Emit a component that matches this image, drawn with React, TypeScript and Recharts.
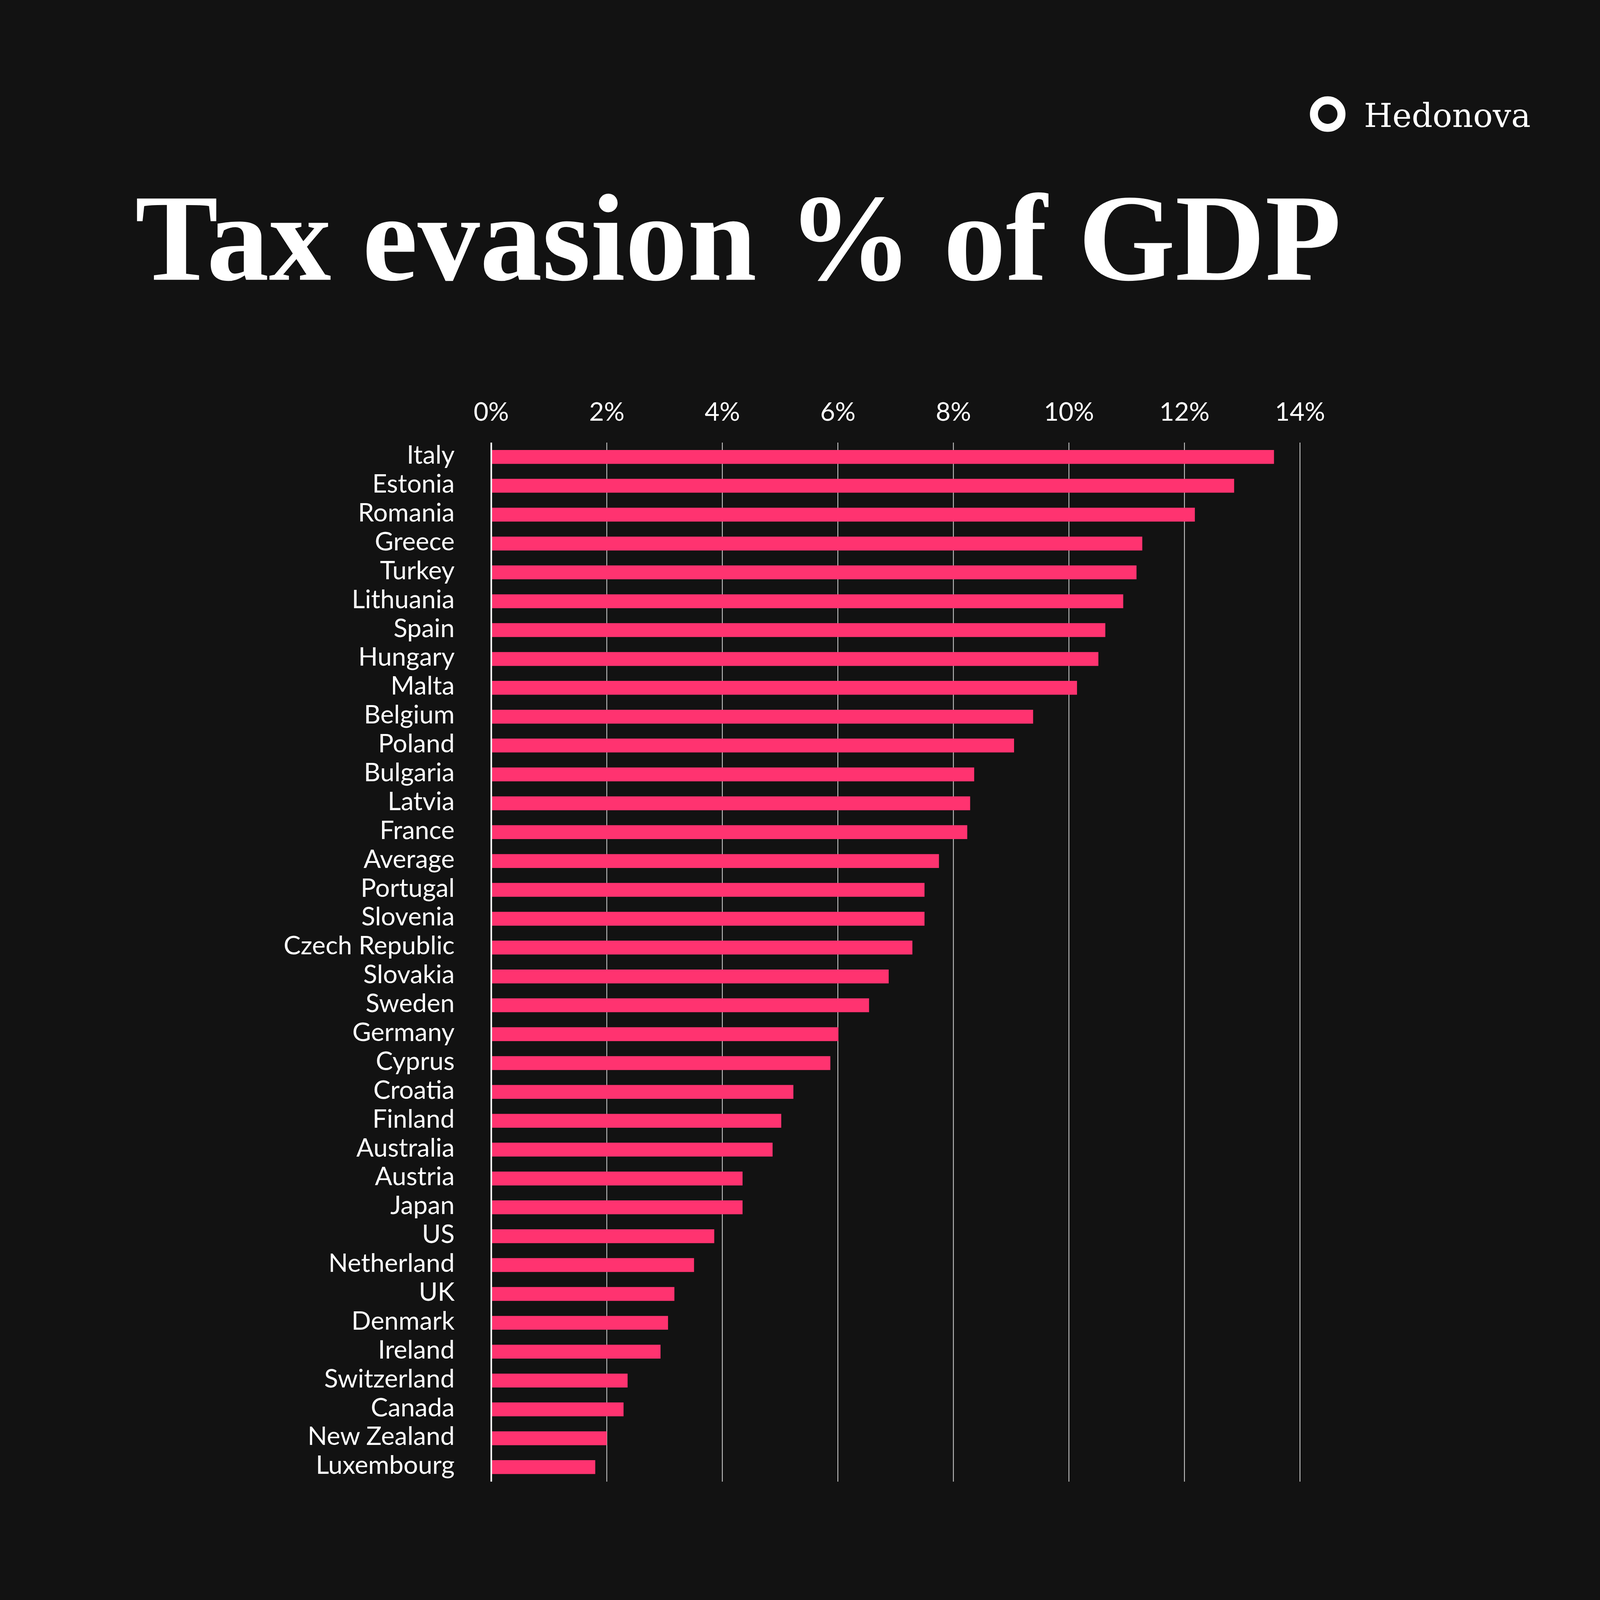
import type React from "react";
import { Bar, BarChart, CartesianGrid, ReferenceLine, XAxis, YAxis } from "recharts";

const countries = [
  "Italy", "Estonia", "Romania", "Greece", "Turkey", "Lithuania", "Spain", "Hungary", "Malta",
  "Belgium", "Poland", "Bulgaria", "Latvia", "France", "Average", "Portugal", "Slovenia",
  "Czech Republic", "Slovakia", "Sweden", "Germany", "Cyprus", "Croatia", "Finland", "Australia",
  "Austria", "Japan", "US", "Netherland", "UK", "Denmark", "Ireland", "Switzerland", "Canada",
  "New Zealand", "Luxembourg",
];

const evasionPct = [
  13.55, 12.86, 12.18, 11.27, 11.17, 10.94, 10.63, 10.51, 10.14,
  9.38, 9.05, 8.36, 8.29, 8.24, 7.75, 7.5, 7.5,
  7.29, 6.88, 6.54, 6.01, 5.87, 5.23, 5.02, 4.87,
  4.35, 4.35, 3.86, 3.51, 3.17, 3.06, 2.93, 2.36, 2.29,
  2.0, 1.8,
];

const xTicks = [0, 2, 4, 6, 8, 10, 12, 14];

const data = countries.map((country, i) => ({ country, value: evasionPct[i] }));

// the page is only 4096 px wide, so the 4501 px layout is scaled down to fit
const S = 4096 / 4501;
const px = (v: number) => v * S;

const W = 4096;
const H = 4096;
const BG = "#121212";
const PINK = "#ff3370";
const LABEL_FONT = "Lato, 'Open Sans', sans-serif";

const styles = {
  page: {
    position: "absolute",
    left: 0,
    top: 0,
    width: W,
    height: H,
    background: BG,
    overflow: "hidden",
  } as React.CSSProperties,
  overlay: {
    position: "absolute",
    left: 0,
    top: 0,
    pointerEvents: "none",
  } as React.CSSProperties,
};

function CountryTick({ x, y, payload }: any) {
  return (
    <text x={x - px(103)} y={y + px(19)} textAnchor="end" fill="#ffffff" fontSize={px(72)} fontFamily={LABEL_FONT}>
      {payload.value}
    </text>
  );
}

function PctTick({ x, y, payload }: any) {
  return (
    <text x={x} y={y - px(62)} textAnchor="middle" fill="#ffffff" fontSize={px(72)} fontFamily={LABEL_FONT}>
      {`${payload.value}%`}
    </text>
  );
}

export default function App() {
  return (
    <div style={styles.page}>
      <BarChart
        width={W}
        height={H}
        data={data}
        layout="vertical"
        margin={{ top: 0, right: W - px(3657), bottom: H - px(4168), left: 0 }}
      >
        <CartesianGrid horizontal={false} vertical stroke="#d6d6d6" strokeWidth={2} />
        <XAxis
          type="number"
          orientation="top"
          domain={[0, 14]}
          ticks={xTicks}
          height={px(1245)}
          axisLine={false}
          tickLine={false}
          tickSize={0}
          tickMargin={0}
          tick={<PctTick />}
          interval={0}
        />
        <YAxis
          type="category"
          dataKey="country"
          width={px(1382)}
          axisLine={false}
          tickLine={false}
          tickSize={0}
          tickMargin={0}
          tick={<CountryTick />}
          interval={0}
        />
        <Bar dataKey="value" fill={PINK} barSize={px(39)} isAnimationActive={false} />
        <ReferenceLine x={0} stroke="#ffffff" strokeWidth={4} />
      </BarChart>
      <svg width={W} height={H} style={styles.overlay}>
        <text
          x={px(380)}
          y={px(787)}
          fill="#ffffff"
          fontSize={px(349)}
          fontWeight="bold"
          fontFamily="'Liberation Serif', serif"
          textLength={px(3393)}
          lengthAdjust="spacingAndGlyphs"
        >
          Tax evasion % of GDP
        </text>
        <circle cx={px(3735)} cy={px(321)} r={px(38.75)} fill="none" stroke="#ffffff" strokeWidth={px(22.5)} />
        <text
          x={px(3837)}
          y={px(357)}
          fill="#ffffff"
          fontSize={px(93)}
          fontFamily="'DejaVu Serif', serif"
          textLength={px(469)}
          lengthAdjust="spacingAndGlyphs"
        >
          Hedonova
        </text>
      </svg>
    </div>
  );
}
